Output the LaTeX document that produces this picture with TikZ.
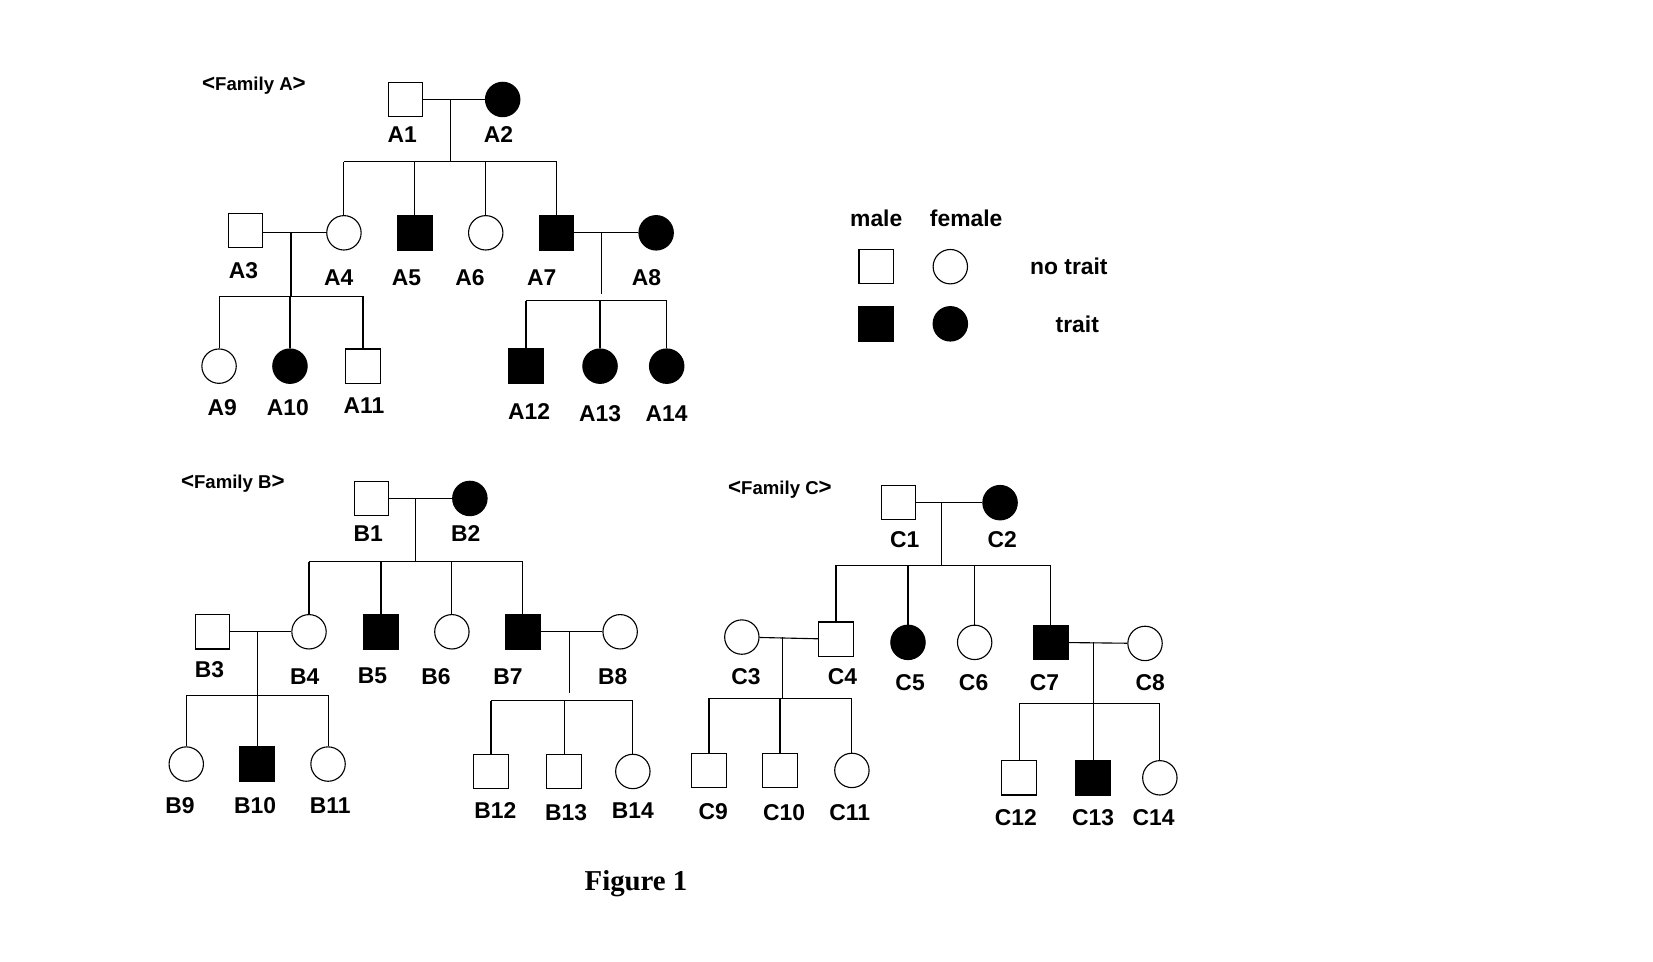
\documentclass[tikz,border=0pt]{standalone}
\usepackage{fontspec}
\setmainfont{Liberation Sans}
\newfontfamily\capfont{Liberation Serif}
\usetikzlibrary{positioning}

\begin{document}
\begin{tikzpicture}[
        x=0.02cm, y=-0.02cm,
        male/.style={rectangle, draw, minimum size=0.65cm, inner sep=0pt},
        female/.style={circle, draw, minimum size=0.65cm, inner sep=0pt},
        trait/.style={fill=black},
        lbl/.style={font=\fontsize{12.3}{14}\selectfont\bfseries},
        every path/.style={line width=0.6pt},
    ]
    \useasboundingbox (0,0) rectangle (1562,909);

    % Family A
    \node[lbl] (famA) at (240,81) {\large<\normalsize Family A\large>};
    \node[male] (A1) at (383,94) {};
    \node[female, trait] (A2) at (475,94) {};
    \node[female] (A4) at (325,220) {};
    \node[male, trait] (A5) at (392,220) {};
    \node[female] (A6) at (459,220) {};
    \node[male, trait] (A7) at (526,220) {};
    \node[male] (A3) at (232,218) {};
    \node[female, trait] (A8) at (620,220) {};
    \node[female] (A9) at (207,346) {};
    \node[female, trait] (A10) at (274,346) {};
    \node[male] (A11) at (343,346) {};
    \node[male, trait] (A12) at (497,346) {};
    \node[female, trait] (A13) at (567,346) {};
    \node[female, trait] (A14) at (630,346) {};
    \coordinate (mA1) at (426,94);   \coordinate (sA1) at (426,153);
    \coordinate (mA3) at (275,220);  \coordinate (sA3) at (275,280);
    \coordinate (mA7) at (568,220);  \coordinate (sA7) at (568,284);
    \draw (A1) -- (A2); \draw (mA1) -- (sA1);
    \draw (A4.north |- sA1) -- (A7.north |- sA1);
    \foreach \c in {A4,A5,A6,A7} \draw (\c.north) -- (\c.north |- sA1);
    \draw (A3.east |- A4) -- (A4); \draw (mA3) -- (sA3);
    \draw (A9.north |- sA3) -- (A11.north |- sA3);
    \foreach \c in {A9,A10,A11} \draw (\c.north) -- (\c.north |- sA3);
    \draw (A7) -- (A8); \draw (mA7) -- (568,278);
    \draw (A12.north |- sA7) -- (A14.north |- sA7);
    \foreach \c in {A12,A13,A14} \draw (\c.north) -- (\c.north |- sA7);
    \foreach \n/\x/\y in {A1/380/127, A2/471/127, A3/230/256, A4/320/262, A5/384/262,
        A6/444/262, A7/512/262, A8/611/262, A9/210/385, A10/272/385, A11/344/383,
        A12/500/389, A13/567/391, A14/630/391}
        \node[lbl] (l\n) at (\x,\y) {\n};

    % legend
    \node[lbl] (lgMale) at (828,206) {male};
    \node[lbl] (lgFemale) at (913,206) {female};
    \node[male] (lgM) at (828,252) {};
    \node[female] (lgF) at (898,252) {};
    \node[male, trait] (lgMT) at (828,306) {};
    \node[female, trait] (lgFT) at (898,306) {};
    \node[lbl] (lgNo) at (1010,252) {no trait};
    \node[lbl] (lgYes) at (1018,306) {trait};

    % Family B
    \node[lbl] (famB) at (220,457) {\large<\normalsize Family B\large>};
    \node[male] (B1) at (351,471) {};
    \node[female, trait] (B2) at (444,471) {};
    \node[female] (B4) at (292,597) {};
    \node[male, trait] (B5) at (360,597) {};
    \node[female] (B6) at (427,597) {};
    \node[male, trait] (B7) at (494,597) {};
    \node[male] (B3) at (201,597) {};
    \node[female] (B8) at (586,597) {};
    \node[female] (B9) at (176,722) {};
    \node[male, trait] (B10) at (243,722) {};
    \node[female] (B11) at (310,722) {};
    \node[male] (B12) at (464,729) {};
    \node[male] (B13) at (533,729) {};
    \node[female] (B14) at (598,729) {};
    \coordinate (mB1) at (393,471);  \coordinate (sB1) at (393,531);
    \coordinate (mB3) at (243,597);  \coordinate (sB3) at (243,657);
    \coordinate (mB7) at (538,597);  \coordinate (sB7) at (538,662);
    \draw (B1) -- (B2); \draw (mB1) -- (sB1);
    \draw (B4.north |- sB1) -- (B7.north |- sB1);
    \foreach \c in {B4,B5,B6,B7} \draw (\c.north) -- (\c.north |- sB1);
    \draw (B3) -- (B4); \draw (mB3) -- (sB3);
    \draw (B9.north |- sB3) -- (B11.north |- sB3);
    \foreach \c in {B9,B10,B11} \draw (\c.north) -- (\c.north |- sB3);
    \draw (B7) -- (B8); \draw (mB7) -- (538,655);
    \draw (B12.north |- sB7) -- (B14.north |- sB7);
    \foreach \c in {B12,B13,B14} \draw (\c.north) -- (\c.north |- sB7);
    \foreach \n/\x/\y in {B1/348/504, B2/440/504, B3/198/633, B4/288/639, B5/352/639,
        B6/412/639, B7/480/639, B8/579/639, B9/170/761, B10/241/761, B11/312/761,
        B12/468/766, B13/535/768, B14/598/766}
        \node[lbl] (l\n) at (\x,\y) {\n};

    % Family C
    \node[lbl] (famC) at (737,463) {\large<\normalsize Family C\large>};
    \node[male] (C1) at (849,475) {};
    \node[female, trait] (C2) at (945,475) {};
    \node[male] (C4) at (790,604) {};
    \node[female, trait] (C5) at (858,607) {};
    \node[female] (C6) at (921,607) {};
    \node[male, trait] (C7) at (993,607) {};
    \node[female] (C3) at (701,602) {};
    \node[female] (C8) at (1082,608) {};
    \node[male] (C9) at (670,728) {};
    \node[male] (C10) at (737,728) {};
    \node[female] (C11) at (805,728) {};
    \node[male] (C12) at (963,735) {};
    \node[male, trait] (C13) at (1033,735) {};
    \node[female] (C14) at (1096,735) {};
    \coordinate (mC1) at (890,475);  \coordinate (sC1) at (890,534);
    \coordinate (mC3) at (739,602);  \coordinate (sC3) at (739,660);
    \coordinate (mC7) at (1033,607); \coordinate (sC7) at (1033,665);
    \draw (C1) -- (C2); \draw (mC1) -- (sC1);
    \draw (C4.north |- sC1) -- (C7.north |- sC1);
    \foreach \c in {C4,C5,C6,C7} \draw (\c.north) -- (\c.north |- sC1);
    \draw (C3) -- (C4); \draw (mC3) -- (sC3);
    \draw (C9.north |- sC3) -- (C11.north |- sC3);
    \foreach \c in {C9,C10,C11} \draw (\c.north) -- (\c.north |- sC3);
    \draw (C7) -- (C8); \draw (mC7) -- (sC7);
    \draw (C12.north |- sC7) -- (C14.north |- sC7);
    \foreach \c in {C12,C13,C14} \draw (\c.north) -- (\c.north |- sC7);
    \foreach \n/\x/\y in {C1/855/510, C2/947/510, C3/705/639, C4/796/639, C5/860/645,
        C6/920/645, C7/987/645, C8/1087/645, C9/674/767, C10/741/768, C11/803/768,
        C12/960/773, C13/1033/773, C14/1090/773}
        \node[lbl] (l\n) at (\x,\y) {\n};

    \node[font=\capfont\fontsize{15.5}{18}\selectfont\bfseries] (cap) at (601,835) {Figure 1};
\end{tikzpicture}
\end{document}
